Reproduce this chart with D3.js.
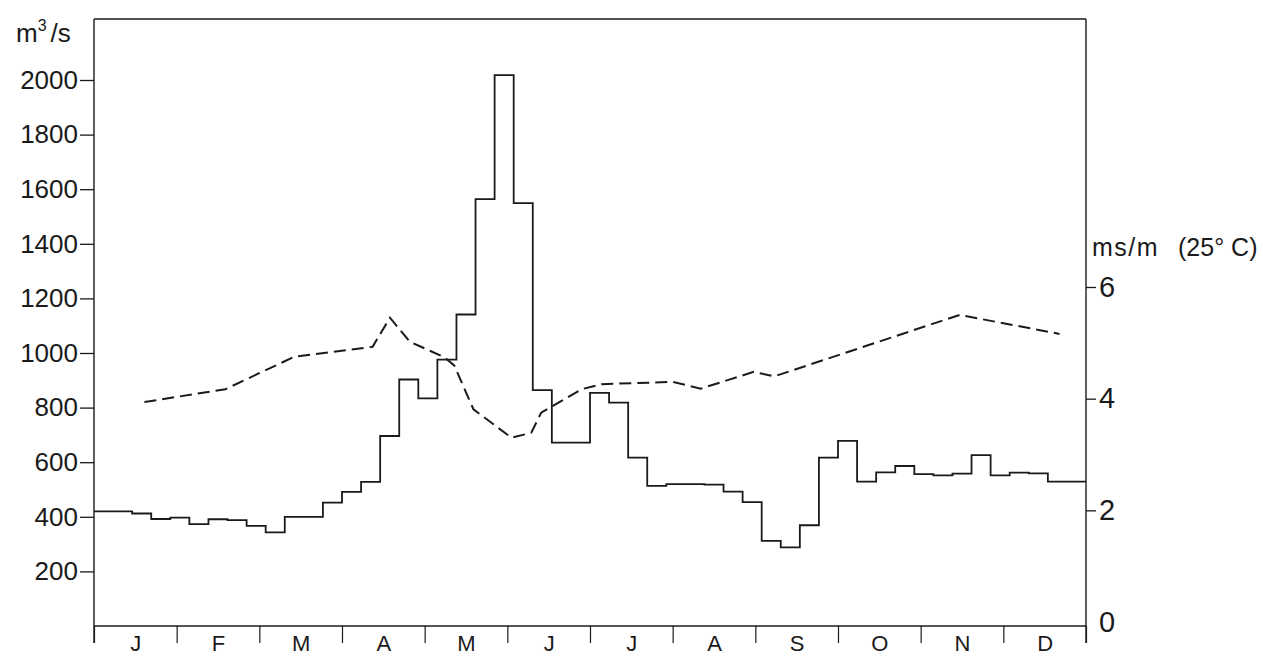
<!DOCTYPE html>
<meta charset="utf-8">
<script src="https://d3js.org/d3.v7.min.js"></script>
<style>
  body { margin: 0; background: #fff; }
  text { font-family: "Liberation Sans", Arial, sans-serif; fill: #1a1a1a; }
</style>
<body>
<div id="chart"></div>
<script>

// month letters on the bottom axis
var months = ["J", "F", "M", "A", "M", "J", "J", "A", "S", "O", "N", "D"];

// weekly discharge, m3/s (52 weeks)
var flow = [420, 420, 412, 392, 397, 373, 391, 388, 367, 343,
            400, 400, 452, 491, 528, 696, 903, 834, 976, 1141,
            1564, 2018, 1549, 864, 672, 672, 854, 818, 617, 513,
            520, 520, 518, 492, 454, 312, 288, 369, 617, 678,
            529, 563, 586, 556, 552, 558, 626, 552, 562, 559,
            529, 529];

// conductivity, ms/m at 25 C (position in months, value)
var condMonth = [0.61, 1.59, 2.42, 3.37, 3.58, 3.82, 4.24, 4.36, 4.59, 5.05,
                 5.29, 5.41, 5.90, 6.14, 7.00, 7.34, 7.98, 8.23, 10.47, 11.68];
var condValue = [3.94, 4.17, 4.75, 4.93, 5.45, 5.02, 4.74, 4.59, 3.81, 3.30,
                 3.39, 3.75, 4.17, 4.26, 4.30, 4.18, 4.48, 4.40, 5.50, 5.16];

var leftTicks = [200, 400, 600, 800, 1000, 1200, 1400, 1600, 1800, 2000];
var rightTicks = [0, 2, 4, 6];

var width = 1263, height = 656;
// frame edges (not named top/left: those clash with window globals)
var frameL = 94, frameR = 1086, frameT = 19, frameB = 626;
var ink = "#1a1a1a";

var svg = d3.select("#chart").append("svg")
  .attr("width", width)
  .attr("height", height);

var x = d3.scaleLinear().domain([0, 12]).range([frameL, frameR]);
var yL = d3.scaleLinear().domain([0, 2000]).range([626, 80]);
var yR = d3.scaleLinear().domain([0, 6]).range([622, 287]);

// frame
svg.append("line").attr("x1", frameL).attr("x2", frameR).attr("y1", frameT).attr("y2", frameT)
  .attr("stroke", ink).attr("stroke-width", 1.4);
svg.append("line").attr("x1", frameL).attr("x2", frameR).attr("y1", frameB).attr("y2", frameB)
  .attr("stroke", ink).attr("stroke-width", 1.4);
svg.append("line").attr("x1", frameL).attr("x2", frameL).attr("y1", frameT).attr("y2", frameB + 17)
  .attr("stroke", ink).attr("stroke-width", 1.4);
svg.append("line").attr("x1", frameR).attr("x2", frameR).attr("y1", frameT).attr("y2", frameB + 17)
  .attr("stroke", ink).attr("stroke-width", 1.4);

// left axis
var gL = svg.append("g").attr("transform", "translate(" + frameL + ",0)")
  .call(d3.axisLeft(yL).tickValues(leftTicks).tickSize(14).tickPadding(2).tickFormat(d3.format("d")));
gL.select(".domain").remove();
gL.selectAll("line").attr("stroke", ink).attr("stroke-width", 1.3);
gL.selectAll("text").style("font-size", "26px").attr("fill", ink);

// right axis
var gR = svg.append("g").attr("transform", "translate(" + frameR + ",0)")
  .call(d3.axisRight(yR).tickValues(rightTicks).tickSize(10).tickPadding(3).tickFormat(d3.format("d")));
gR.select(".domain").remove();
gR.selectAll("line").attr("stroke", ink).attr("stroke-width", 1.3)
  .filter(function(d) { return d === 0; }).remove();
gR.selectAll("text").style("font-size", "29px").attr("fill", ink);

// month boundary ticks
var gM = svg.append("g").attr("transform", "translate(0," + frameB + ")")
  .call(d3.axisBottom(x).tickValues(d3.range(0, 13)).tickSize(17).tickFormat(""));
gM.select(".domain").remove();
gM.selectAll("line").attr("stroke", ink).attr("stroke-width", 1.2);

// month letters
var gML = svg.append("g").attr("transform", "translate(0," + frameB + ")")
  .call(d3.axisBottom(x).tickValues(d3.range(12).map(function(i) { return i + 0.5; }))
    .tickSize(0).tickPadding(9).tickFormat(function(d, i) { return months[i]; }));
gML.select(".domain").remove();
gML.selectAll("text").style("font-size", "22px").attr("fill", ink);

// axis titles
var t1 = svg.append("text").attr("x", 16).attr("y", 42).style("font-size", "26px");
t1.append("tspan").text("m");
t1.append("tspan").attr("dy", -11).style("font-size", "16px").text("3");
t1.append("tspan").attr("dy", 11).attr("dx", 4).text("/s");

svg.append("text").attr("x", 1092).attr("y", 256).style("font-size", "25px")
  .style("letter-spacing", "1.5px").text("ms/m");
svg.append("text").attr("x", 1178).attr("y", 256).style("font-size", "25px")
  .text("(25° C)");

// weekly discharge step line
var weeks = flow.map(function(v, i) { return [i * 12 / 52, v]; });
weeks.push([12, flow[flow.length - 1]]);

var stepLine = d3.line()
  .x(function(d) { return x(d[0]); })
  .y(function(d) { return yL(d[1]); })
  .curve(d3.curveStepAfter);

svg.append("path").datum(weeks)
  .attr("d", stepLine)
  .attr("fill", "none")
  .attr("stroke", ink)
  .attr("stroke-width", 1.8);

// conductivity dashed line
var cond = condMonth.map(function(m, i) { return [m, condValue[i]]; });

var condLine = d3.line()
  .x(function(d) { return x(d[0]); })
  .y(function(d) { return yR(d[1]); });

svg.append("path").datum(cond)
  .attr("d", condLine)
  .attr("fill", "none")
  .attr("stroke", ink)
  .attr("stroke-width", 2)
  .attr("stroke-dasharray", "12,6");

</script>
</body>
